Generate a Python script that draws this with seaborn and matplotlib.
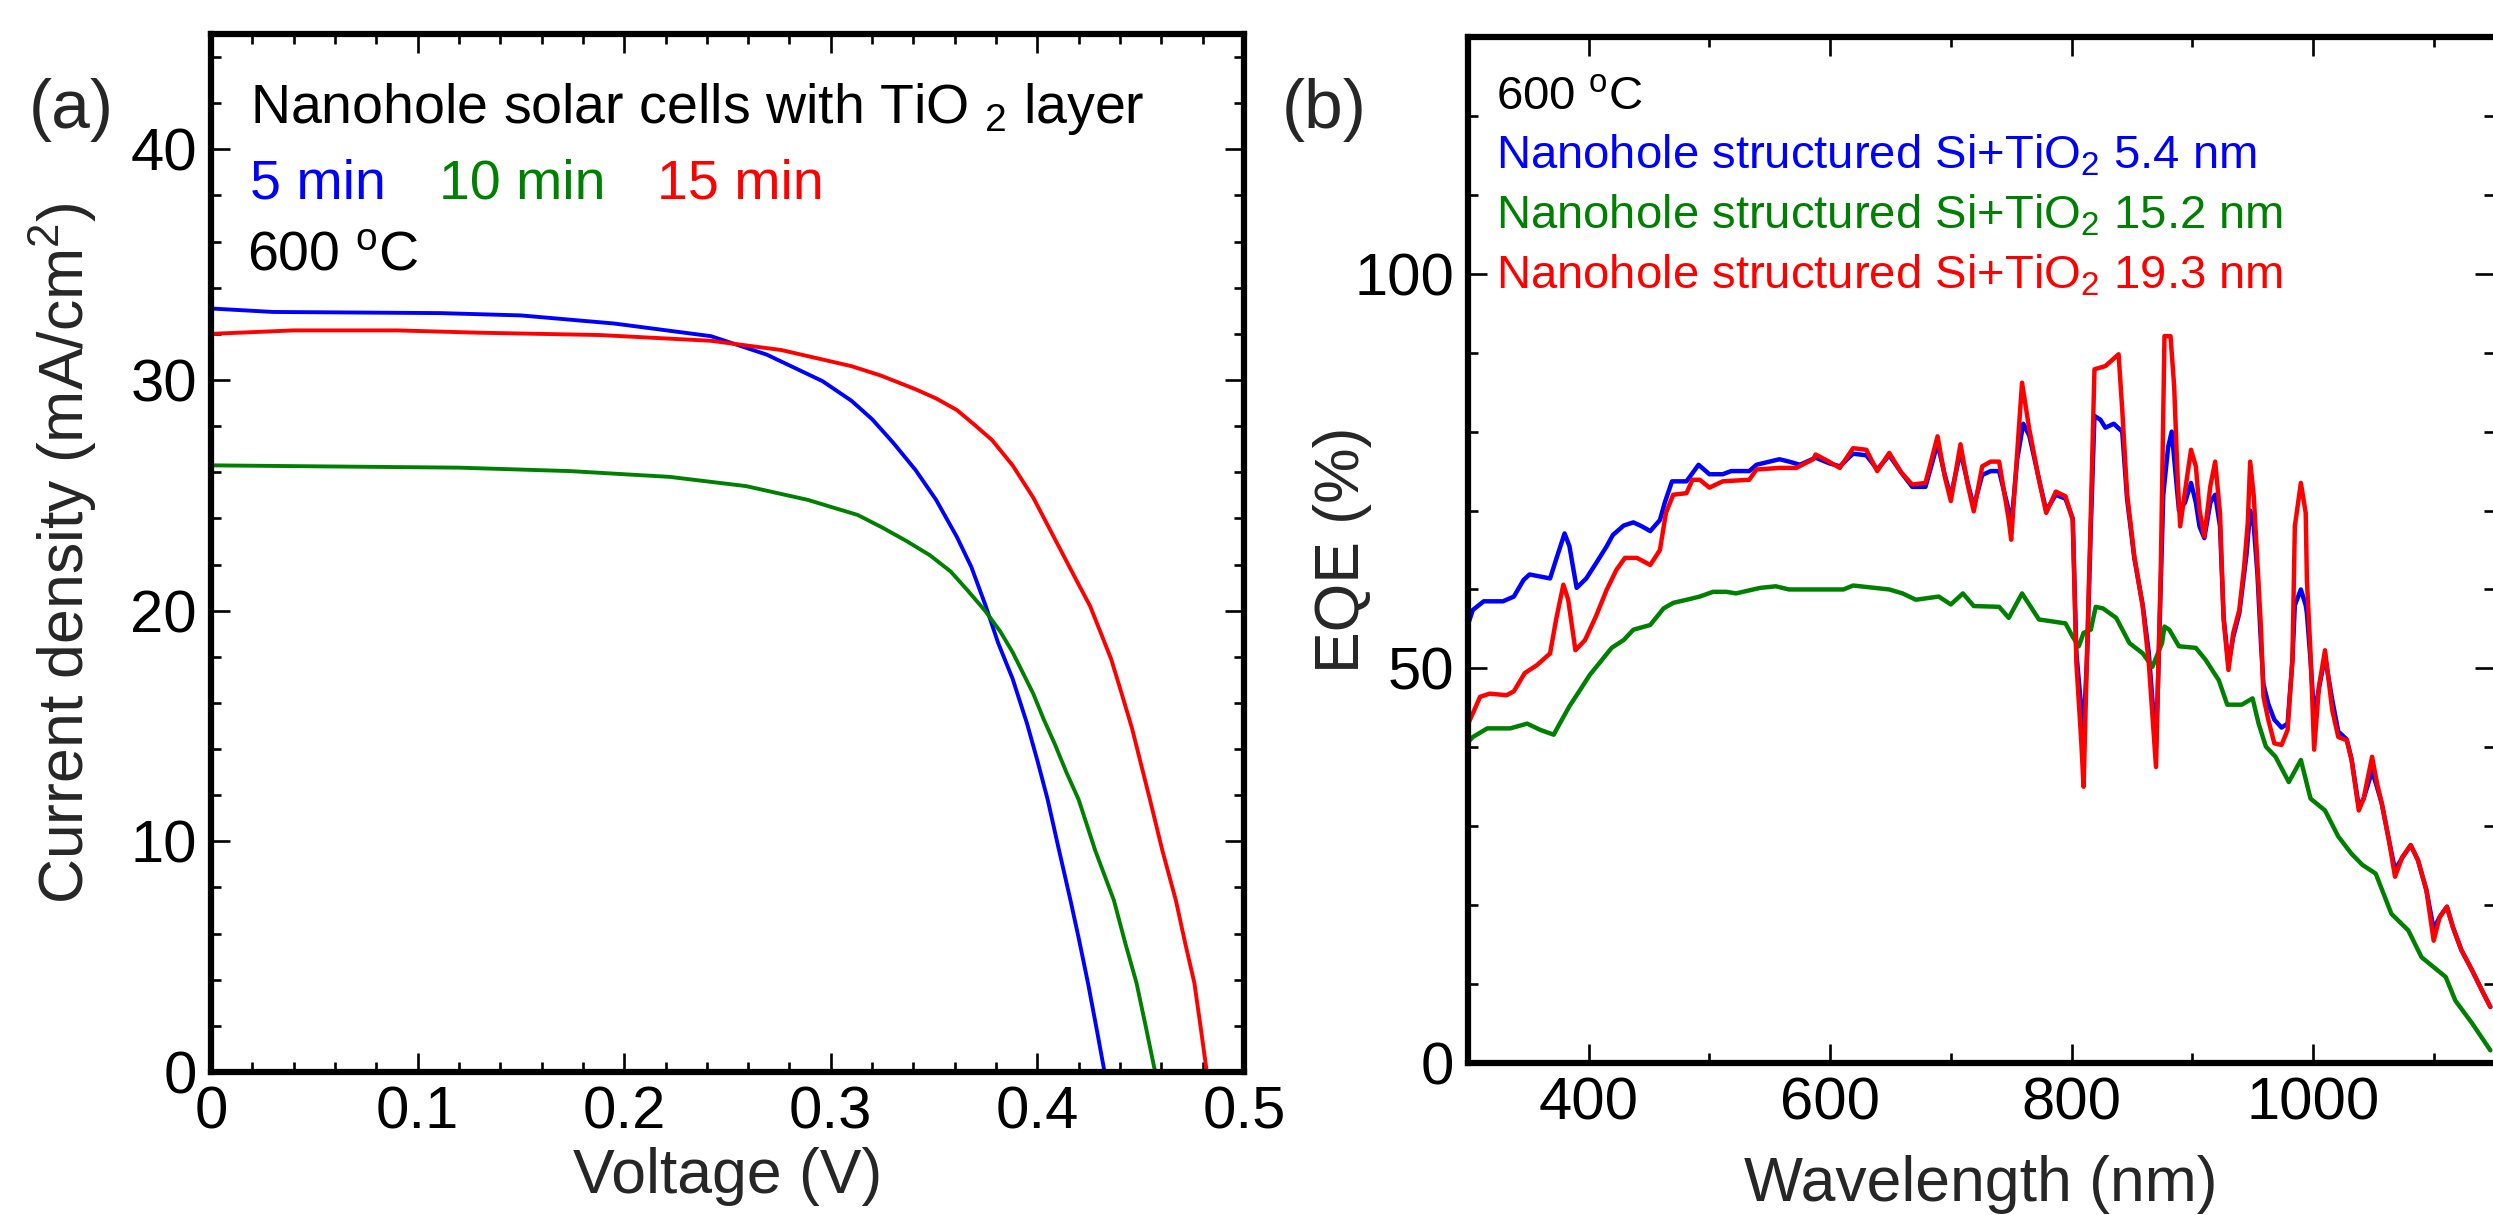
import matplotlib
matplotlib.use("Agg")
import matplotlib.pyplot as plt
from matplotlib.ticker import MultipleLocator
import seaborn as sns
import numpy as np

# ---- (a) J-V curves ----
v_5min = [0.000, 0.030, 0.111, 0.150, 0.195, 0.242, 0.269, 0.296, 0.310, 0.320, 0.330,
          0.341, 0.351, 0.361, 0.368, 0.375, 0.381, 0.388, 0.395, 0.400, 0.405, 0.410,
          0.416, 0.420, 0.4245, 0.4285, 0.4325]
j_5min = [33.1, 32.95, 32.9, 32.8, 32.45, 31.9, 31.1, 29.95, 29.1, 28.3, 27.3,
          26.1, 24.8, 23.2, 21.9, 20.2, 18.6, 17.05, 15.1, 13.5, 11.8, 9.8,
          7.45, 5.8, 3.85, 1.95, 0.0]

v_10min = [0.000, 0.120, 0.174, 0.222, 0.259, 0.289, 0.300, 0.313, 0.325, 0.337, 0.348,
           0.358, 0.366, 0.375, 0.382, 0.388, 0.393, 0.398, 0.403, 0.4085, 0.414, 0.420,
           0.428, 0.437, 0.4425, 0.448, 0.4525, 0.457]
j_10min = [26.3, 26.2, 26.05, 25.8, 25.4, 24.8, 24.5, 24.15, 23.6, 23.0, 22.4,
           21.7, 20.9, 19.96, 19.1, 18.2, 17.3, 16.4, 15.3, 14.2, 13.0, 11.8,
           9.6, 7.45, 5.6, 3.85, 1.95, 0.0]

v_15min = [0.000, 0.040, 0.090, 0.130, 0.188, 0.242, 0.276, 0.310, 0.324, 0.341, 0.351,
           0.361, 0.369, 0.378, 0.388, 0.398, 0.405, 0.412, 0.419, 0.4255, 0.4304, 0.4357,
           0.4408, 0.4458, 0.450, 0.4545, 0.4605, 0.467, 0.4715, 0.476, 0.479, 0.482]
j_15min = [32.0, 32.15, 32.15, 32.05, 31.95, 31.7, 31.3, 30.6, 30.2, 29.6, 29.2,
           28.7, 28.1, 27.4, 26.3, 24.9, 23.7, 22.5, 21.3, 20.2, 19.1, 17.9,
           16.4, 14.9, 13.4, 11.8, 9.6, 7.45, 5.6, 3.85, 1.95, 0.0]

# ---- (b) EQE spectra ----
wl_54 = [299, 304, 313, 329, 338, 346, 351, 368, 373, 380, 384, 390, 398, 406, 415, 420,
         429, 437, 444, 451, 459, 463, 469, 481, 491, 500, 511, 518, 533, 539, 558, 566,
         575, 588, 599, 608, 619, 630, 639, 649, 659, 668, 679, 689, 695, 700, 708, 714,
         719, 726, 733, 740, 748, 750, 755, 760, 765, 773, 779, 787, 795, 801, 804, 808,
         810, 813, 816, 819, 824, 828, 835, 842, 846, 852, 859, 864, 870, 872, 876, 880,
         883, 886, 889, 894, 899, 903, 906, 910, 915, 919, 923, 926, 930, 934, 939, 943,
         945, 948, 951, 954, 957, 959, 963, 968, 974, 979, 983, 985, 990, 994, 995, 998,
         1001, 1005, 1010, 1016, 1021, 1028, 1032, 1038, 1042, 1049, 1053, 1057, 1063,
         1068, 1074, 1081, 1087, 1094, 1100, 1105, 1111, 1116, 1123, 1132, 1140, 1147]
eqe_54 = [55.1, 57.4, 58.5, 58.5, 59.1, 61.2, 61.9, 61.4, 63.8, 67.1, 65.5, 60.2, 61.4, 63.3,
          65.5, 66.9, 68.1, 68.5, 68.0, 67.4, 68.8, 71.0, 73.7, 73.7, 75.8, 74.6, 74.6, 75.0,
          75.0, 75.8, 76.5, 76.2, 75.8, 76.7, 76.0, 75.6, 77.2, 77.0, 75.2, 77.0, 74.8, 73.0,
          73.0, 78.5, 74.5, 71.8, 77.5, 73.5, 70.5, 74.5, 75.0, 75.0, 70.0, 68.0, 76.5, 81.0,
          79.5, 74.0, 70.0, 72.0, 71.5, 69.0, 52.0, 45.0, 42.0, 52.0, 68.0, 82.0, 81.5, 80.5,
          81.0, 80.0, 71.5, 64.0, 58.0, 52.0, 40.0, 50.0, 72.0, 78.0, 80.0, 75.0, 70.0, 71.0,
          73.5, 71.0, 68.0, 66.5, 71.0, 72.0, 68.0, 56.5, 50.5, 54.0, 57.0, 62.0, 64.5, 70.0,
          68.0, 62.0, 53.0, 48.0, 45.5, 43.5, 42.5, 43.0, 51.0, 58.0, 60.0, 58.0, 57.0, 51.0,
          44.0, 47.5, 51.5, 46.0, 42.0, 41.0, 38.5, 32.5, 33.5, 37.0, 35.0, 32.9, 28.2, 24.5,
          26.0, 27.6, 25.7, 21.9, 17.0, 18.5, 19.8, 17.2, 14.3, 11.7, 9.2, 7.1]

wl_152 = [299, 304, 316, 335, 349, 360, 371, 376, 384, 393, 401, 409, 419, 429, 437, 451,
          462, 470, 484, 492, 503, 514, 522, 542, 555, 566, 588, 611, 619, 649, 660, 671,
          690, 700, 710, 719, 740, 748, 759, 773, 795, 801, 806, 810, 816, 820, 826, 837,
          848, 859, 867, 875, 877, 881, 889, 903, 911, 922, 929, 941, 950, 955, 961, 969,
          980, 990, 998, 1010, 1021, 1032, 1041, 1052, 1065, 1079, 1090, 1110, 1118, 1132,
          1147]
eqe_152 = [40.5, 41.3, 42.4, 42.4, 43.0, 42.2, 41.6, 43.0, 45.2, 47.3, 49.2, 50.7, 52.6,
           53.6, 54.9, 55.5, 57.6, 58.3, 58.8, 59.1, 59.7, 59.7, 59.5, 60.2, 60.4, 60.0,
           60.0, 60.0, 60.5, 60.0, 59.5, 58.7, 59.1, 58.1, 59.5, 57.9, 57.8, 56.4, 59.5,
           56.2, 55.7, 54.0, 52.8, 54.5, 54.9, 57.8, 57.6, 56.4, 53.2, 51.9, 50.2, 53.2,
           55.3, 54.9, 52.8, 52.6, 51.1, 48.5, 45.4, 45.4, 46.2, 43.0, 40.1, 38.8, 35.6,
           38.4, 33.5, 32.0, 28.7, 26.5, 25.1, 24.0, 18.9, 16.8, 13.4, 10.9, 7.9, 5.0, 1.6]

wl_193 = [299, 304, 310, 318, 332, 338, 347, 357, 368, 373, 379, 383, 389, 397, 406, 415,
          423, 430, 440, 451, 459, 464, 470, 481, 486, 492, 500, 511, 533, 539, 558, 572,
          586, 588, 599, 608, 619, 630, 639, 649, 659, 668, 679, 689, 695, 700, 708, 714,
          719, 726, 733, 740, 748, 750, 755, 759, 765, 773, 779, 787, 795, 801, 804, 808,
          810, 813, 816, 819, 828, 839, 842, 846, 852, 859, 864, 870, 872, 874, 877, 882,
          885, 888, 890, 895, 899, 903, 906, 910, 915, 919, 923, 926, 930, 934, 939, 943,
          946, 948, 951, 954, 957, 959, 963, 968, 974, 979, 983, 985, 990, 994, 995, 998,
          1001, 1005, 1010, 1016, 1021, 1028, 1032, 1038, 1042, 1049, 1053, 1057, 1063,
          1068, 1074, 1081, 1087, 1094, 1100, 1105, 1111, 1116, 1123, 1132, 1140, 1147]
eqe_193 = [42.6, 44.3, 46.4, 46.8, 46.6, 47.1, 49.4, 50.4, 51.9, 56.2, 60.6, 58.7, 52.3,
           53.6, 56.6, 60.0, 62.5, 64.0, 64.0, 63.1, 65.0, 69.7, 72.0, 72.2, 73.9, 73.9,
           72.9, 73.7, 73.9, 75.2, 75.4, 75.4, 76.5, 77.1, 76.2, 75.4, 77.9, 77.7, 75.0,
           77.3, 74.8, 73.3, 73.5, 79.4, 74.3, 71.2, 78.4, 73.3, 69.9, 75.6, 76.2, 76.2,
           68.8, 66.3, 77.3, 86.2, 80.3, 73.9, 69.7, 72.4, 71.8, 68.8, 50.7, 40.9, 35.0,
           52.8, 69.7, 87.9, 88.3, 89.8, 82.8, 72.2, 64.2, 57.8, 50.7, 37.5, 50.7, 62.9,
           92.1, 92.1, 85.8, 73.9, 68.0, 73.5, 77.7, 75.6, 70.1, 66.7, 73.1, 76.2, 69.7,
           56.2, 49.8, 54.5, 57.4, 62.9, 68.4, 76.2, 71.8, 63.3, 54.9, 46.4, 43.5, 40.5,
           40.3, 42.2, 51.1, 68.0, 73.5, 69.7, 61.2, 51.9, 39.7, 47.7, 52.3, 44.7, 41.3,
           40.9, 38.4, 32.0, 33.5, 38.8, 35.5, 32.9, 28.2, 23.6, 26.1, 27.6, 25.7, 21.9,
           15.5, 18.5, 19.8, 17.2, 14.3, 11.7, 9.2, 7.1]

BLUE = "#0000ff"
GREEN = "#008000"
RED = "#ff0000"

sns.set_style("ticks")
plt.rcParams["font.family"] = ["Liberation Sans", "DejaVu Sans"]
plt.rcParams["mathtext.fontset"] = "custom"
plt.rcParams["mathtext.rm"] = "Liberation Sans"
plt.rcParams["mathtext.it"] = "Liberation Sans:italic"
plt.rcParams["mathtext.default"] = "regular"

W, H = 2493, 1215
fig = plt.figure(figsize=(W / 100, H / 100), dpi=100)
ax1 = fig.add_axes([211 / W, 1 - 1072 / H, (1244 - 211) / W, (1072 - 34) / H])
ax2 = fig.add_axes([1468 / W, 1 - 1063 / H, (2494 - 1468) / W, (1063 - 37) / H])


def style(ax):
    for sp in ax.spines.values():
        sp.set_linewidth(4.5)
        sp.set_color("black")
        sp.set_visible(True)
    ax.tick_params(which="both", direction="in", top=True, right=True,
                   width=1.9, colors="black")
    ax.tick_params(which="major", length=13.5, labelsize=43, pad=10)
    ax.tick_params(which="minor", length=7)


# (a)
sns.lineplot(x=v_5min, y=j_5min, ax=ax1, color=BLUE, lw=2.8, estimator=None, sort=False)
sns.lineplot(x=v_10min, y=j_10min, ax=ax1, color=GREEN, lw=2.8, estimator=None, sort=False)
sns.lineplot(x=v_15min, y=j_15min, ax=ax1, color=RED, lw=2.8, estimator=None, sort=False)
ax1.set_xlim(0, 0.5)
ax1.set_ylim(0, 45)
ax1.xaxis.set_major_locator(MultipleLocator(0.1))
ax1.xaxis.set_minor_locator(MultipleLocator(0.02))
ax1.yaxis.set_major_locator(MultipleLocator(10))
ax1.yaxis.set_minor_locator(MultipleLocator(2))
ax1.set_xticks([0, 0.1, 0.2, 0.3, 0.4, 0.5], ["0", "0.1", "0.2", "0.3", "0.4", "0.5"])
style(ax1)
ax1.set_xlabel("Voltage (V)", fontsize=45)
ax1.set_ylabel("Current density (mA/cm$^2$)", fontsize=45)
ax1.xaxis.set_label_coords(0.5, -0.072)
ax1.yaxis.set_label_coords(-0.108, 0.5)

ax1.text(0.038, 0.914, "Nanohole solar cells with TiO $_2$ layer", transform=ax1.transAxes,
         fontsize=40, color="black", va="baseline")
ax1.text(0.038, 0.842, "5 min", transform=ax1.transAxes, fontsize=40, color=BLUE, va="baseline")
ax1.text(0.221, 0.842, "10 min", transform=ax1.transAxes, fontsize=40, color=GREEN, va="baseline")
ax1.text(0.432, 0.842, "15 min", transform=ax1.transAxes, fontsize=40, color=RED, va="baseline")
ax1.text(0.035, 0.772, "600 $^{o}$C", transform=ax1.transAxes, fontsize=40, color="black",
         va="baseline")

# (b)
sns.lineplot(x=wl_54, y=eqe_54, ax=ax2, color=BLUE, lw=3.2, estimator=None, sort=False)
sns.lineplot(x=wl_152, y=eqe_152, ax=ax2, color=GREEN, lw=3.2, estimator=None, sort=False)
sns.lineplot(x=wl_193, y=eqe_193, ax=ax2, color=RED, lw=3.2, estimator=None, sort=False)
ax2.set_xlim(300, 1150)
ax2.set_ylim(0, 130)
ax2.xaxis.set_major_locator(MultipleLocator(200))
ax2.xaxis.set_minor_locator(MultipleLocator(100))
ax2.yaxis.set_major_locator(MultipleLocator(50))
ax2.yaxis.set_minor_locator(MultipleLocator(10))
style(ax2)
ax2.set_xlabel("Wavelength (nm)", fontsize=45)
ax2.set_ylabel("EQE (%)", fontsize=45)
ax2.xaxis.set_label_coords(0.5, -0.09)
ax2.yaxis.set_label_coords(-0.094, 0.5)

ax2.text(0.027, 0.929, "600 $^{o}$C", transform=ax2.transAxes, fontsize=34, color="black",
         va="baseline")
ax2.text(0.027, 0.872, "Nanohole structured Si+TiO$_2$ 5.4 nm", transform=ax2.transAxes,
         fontsize=34, color=BLUE, va="baseline")
ax2.text(0.027, 0.813, "Nanohole structured Si+TiO$_2$ 15.2 nm", transform=ax2.transAxes,
         fontsize=34, color=GREEN, va="baseline")
ax2.text(0.027, 0.755, "Nanohole structured Si+TiO$_2$ 19.3 nm", transform=ax2.transAxes,
         fontsize=34, color=RED, va="baseline")

fig.text(29 / W, 1 - 110 / H, "(a)", fontsize=50, va="center", ha="left")
fig.text(1282 / W, 1 - 110 / H, "(b)", fontsize=50, va="center", ha="left")

fig.savefig("out.png", dpi=100, facecolor="white")
